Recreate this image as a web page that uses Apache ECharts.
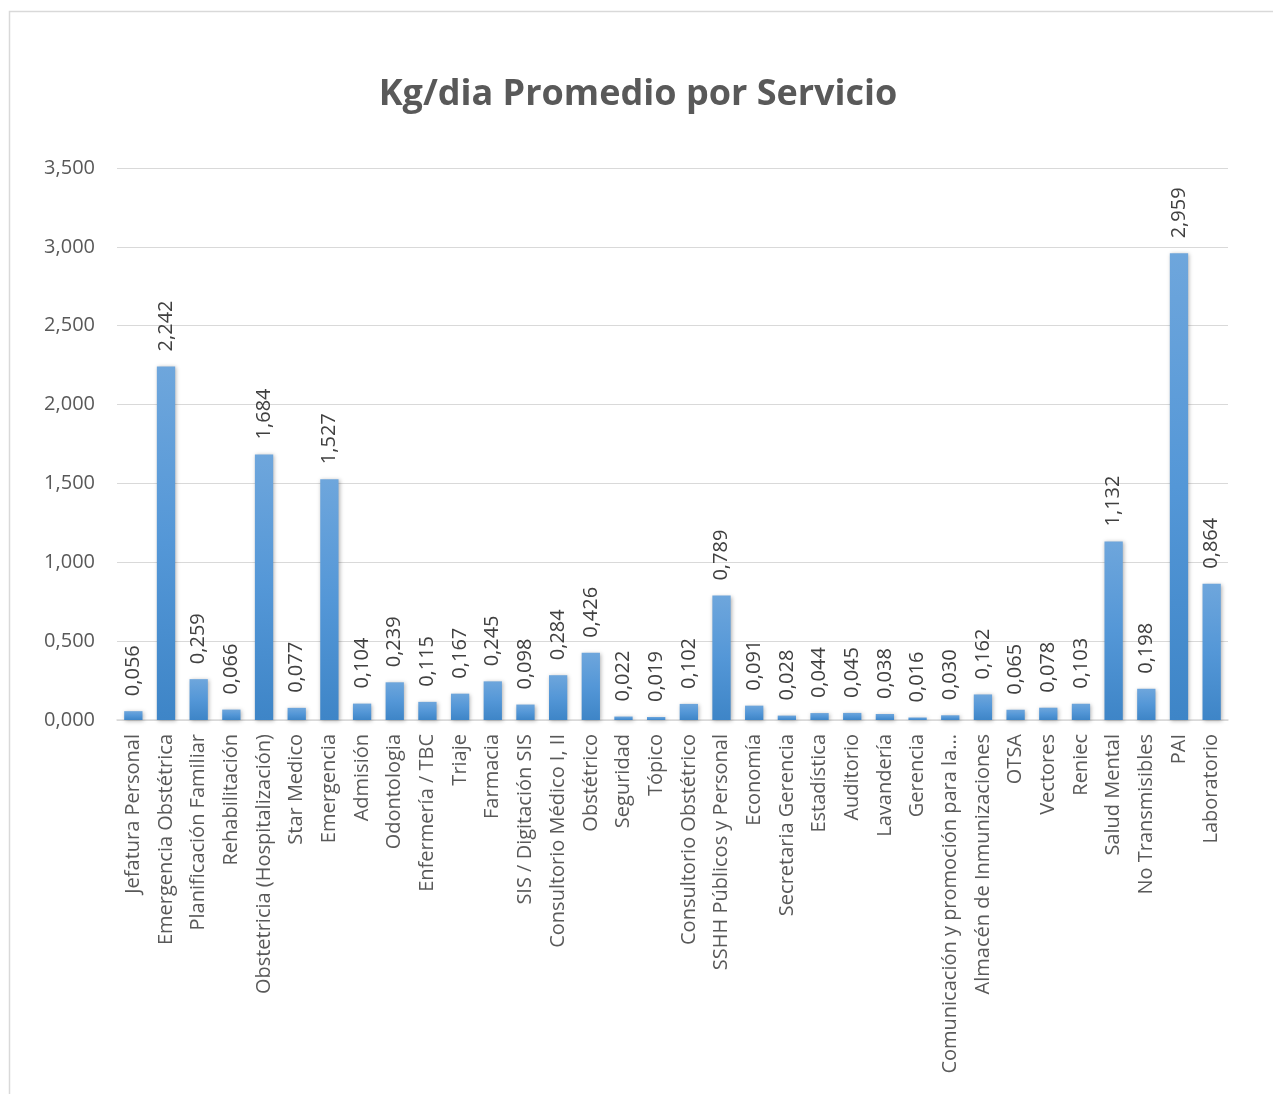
<!DOCTYPE html>
<html>
<head>
<meta charset="utf-8">
<script src="https://cdn.jsdelivr.net/npm/echarts@6/dist/echarts.min.js"></script>
<style>
  html, body { margin: 0; padding: 0; background: #fff; }
  #chart { width: 1273px; height: 1094px; }
</style>
</head>
<body>
<div id="chart"></div>
<script>
const categories = [
  'Jefatura Personal', 'Emergencia Obstétrica', 'Planificación Familiar', 'Rehabilitación',
  'Obstetricia (Hospitalización)', 'Star Medico', 'Emergencia', 'Admisión', 'Odontologia',
  'Enfermería / TBC', 'Triaje', 'Farmacia', 'SIS / Digitación SIS', 'Consultorio Médico I, II',
  'Obstétrico', 'Seguridad', 'Tópico', 'Consultorio Obstétrico', 'SSHH Públicos y Personal',
  'Economía', 'Secretaria Gerencia', 'Estadística', 'Auditorio', 'Lavandería', 'Gerencia',
  'Comunicación y promoción para la...', 'Almacén de Inmunizaciones', 'OTSA', 'Vectores',
  'Reniec', 'Salud Mental', 'No Transmisibles', 'PAI', 'Laboratorio'
];
const kgPerDay = [
  0.056, 2.242, 0.259, 0.066, 1.684, 0.077, 1.527, 0.104, 0.239,
  0.115, 0.167, 0.245, 0.098, 0.284, 0.426, 0.022, 0.019, 0.102, 0.789,
  0.091, 0.028, 0.044, 0.045, 0.038, 0.016, 0.030, 0.162, 0.065, 0.078,
  0.103, 1.132, 0.198, 2.959, 0.864
];
const yTicks = { min: 0, max: 3.5, interval: 0.5 };

const fmt = v => Number(v).toFixed(3).replace('.', ',');
const font = '"Open Sans", "Noto Sans", sans-serif';

const chart = echarts.init(document.getElementById('chart'));
chart.setOption({
  animation: false,
  backgroundColor: '#fff',
  graphic: [{
    type: 'rect',
    shape: { x: 9.5, y: 11.5, width: 1300, height: 1200 },
    style: { fill: 'none', stroke: '#d9d9d9', lineWidth: 1.5 },
    silent: true
  }],
  title: {
    text: 'Kg/dia Promedio por Servicio',
    left: 633,
    top: 72,
    textAlign: 'center',
    textStyle: { fontFamily: font, fontSize: 36, fontWeight: 'bold', color: '#595959' }
  },
  grid: { left: 117, right: 45, top: 168, bottom: 374 },
  xAxis: {
    type: 'category',
    data: categories,
    axisTick: { show: false },
    axisLine: { lineStyle: { color: '#d9d9d9', width: 1.5 } },
    axisLabel: {
      interval: 0,
      rotate: 90,
      margin: 14,
      fontFamily: font,
      fontSize: 20,
      color: '#595959'
    }
  },
  yAxis: {
    type: 'value',
    min: yTicks.min,
    max: yTicks.max,
    interval: yTicks.interval,
    axisLine: { show: false },
    axisTick: { show: false },
    splitLine: { lineStyle: { color: '#d9d9d9', width: 1.2 } },
    axisLabel: {
      formatter: fmt,
      margin: 22,
      fontFamily: font,
      fontSize: 20,
      color: '#595959'
    }
  },
  series: [{
    type: 'bar',
    data: kgPerDay,
    barWidth: '56%',
    itemStyle: {
      color: new echarts.graphic.LinearGradient(0, 0, 0, 1, [
        { offset: 0, color: '#6EA6DC' },
        { offset: 0.5, color: '#5497D7' },
        { offset: 1, color: '#3E85C7' }
      ]),
      shadowBlur: 4,
      shadowColor: 'rgba(0,0,0,0.3)',
      shadowOffsetX: 1,
      shadowOffsetY: 1
    },
    label: {
      show: true,
      position: 'top',
      rotate: 90,
      align: 'left',
      verticalAlign: 'middle',
      distance: 15,
      formatter: p => fmt(p.value),
      fontFamily: font,
      fontSize: 20,
      color: '#404040'
    }
  }]
});
</script>
</body>
</html>
